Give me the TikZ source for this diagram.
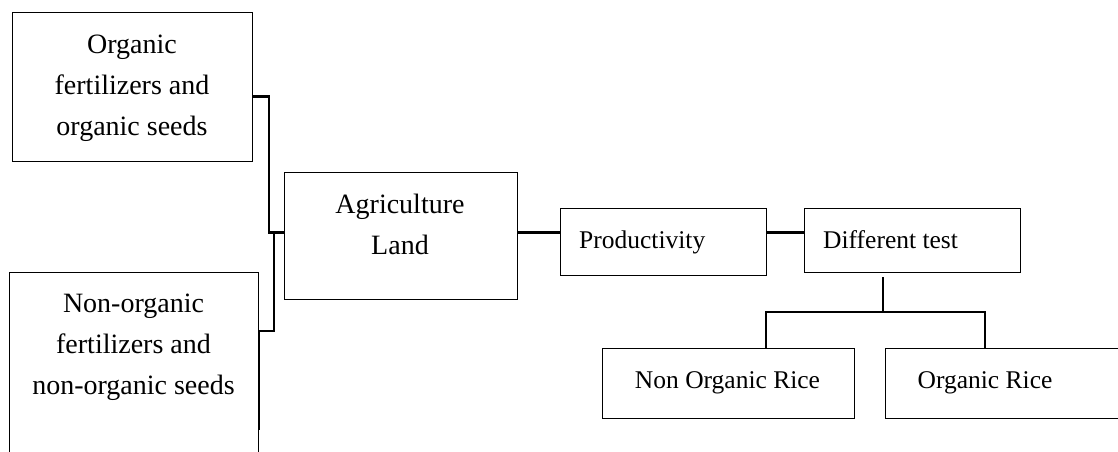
\documentclass[tikz,border=0pt]{standalone}
\usepackage{fontspec}
\setmainfont{Liberation Serif}
\usetikzlibrary{calc}
\begin{document}
\begin{tikzpicture}[x=1pt,y=-1pt,
  box/.style={draw=black, line width=1pt, inner sep=0pt},
  txt/.style={font=\fontsize{25.5}{41}\selectfont, align=center, inner sep=0pt},
  bigtxt/.style={font=\fontsize{28}{41}\selectfont, align=center, inner sep=0pt},
  conn/.style={draw=black, line width=2.2pt}]
\useasboundingbox (0,0) rectangle (1118,451);
\clip (0,0) rectangle (1118,451);
% boxes
\node[box, anchor=north west, minimum width=240, minimum height=149] (org) at (12,12) {};
\node[box, anchor=north west, minimum width=249, minimum height=220] (nonorg) at (9,272) {};
\node[box, anchor=north west, minimum width=233, minimum height=127] (agri) at (284,172) {};
\node[box, anchor=north west, minimum width=206, minimum height=67] (prod) at (560,208) {};
\node[box, anchor=north west, minimum width=216, minimum height=64] (diff) at (804,208) {};
\node[box, anchor=north west, minimum width=252, minimum height=70] (nonrice) at (602,348) {};
\node[box, anchor=north west, minimum width=260, minimum height=70] (orgrice) at (885,348) {};
% texts
\node[bigtxt] (orgtxt) at (132,88) {Organic\\fertilizers and\\organic seeds};
\node[bigtxt] (nonorgtxt) at (133.5,347.5) {Non-organic\\fertilizers and\\non-organic seeds};
\node[bigtxt] (agritxt) at (400,224) {Agriculture\\Land};
\node[txt, anchor=base west] (prodtxt) at (579,248) {Productivity};
\node[txt, anchor=base west] (difftxt) at (823,248) {Different test};
\node[txt, anchor=base] (nonricetxt) at (727.5,388) {Non Organic Rice};
\node[txt, anchor=base] (orgricetxt) at (985,388) {Organic Rice};
% connectors
\coordinate (join) at ($(agri.west)+(-10,-3.5)$);
\draw[conn] ($(org.east)+(0,9.5)$) -| ($(agri.west)+(-15,-3.5)$) -- ($(agri.west)+(0,-3.5)$);
\draw[conn] ($(nonorg.north east)+(0,158)$) -- ($(nonorg.north east)+(0,59)$) -| (join);
\draw[conn] ($(agri.east)+(0,-3.5)$) -- ($(prod.west)+(0,-9.5)$);
\draw[conn] ($(prod.east)+(0,-9.5)$) -- ($(diff.west)+(0,-8)$);
\coordinate (split) at ($(diff.south west)+(79,39)$);
\draw[conn] ($(diff.south west)+(79,4)$) -- (split);
\draw[conn] ($(nonrice.north west)+(164,0)$) |- (split) -| ($(orgrice.north west)+(100,0)$);
\end{tikzpicture}
\end{document}
